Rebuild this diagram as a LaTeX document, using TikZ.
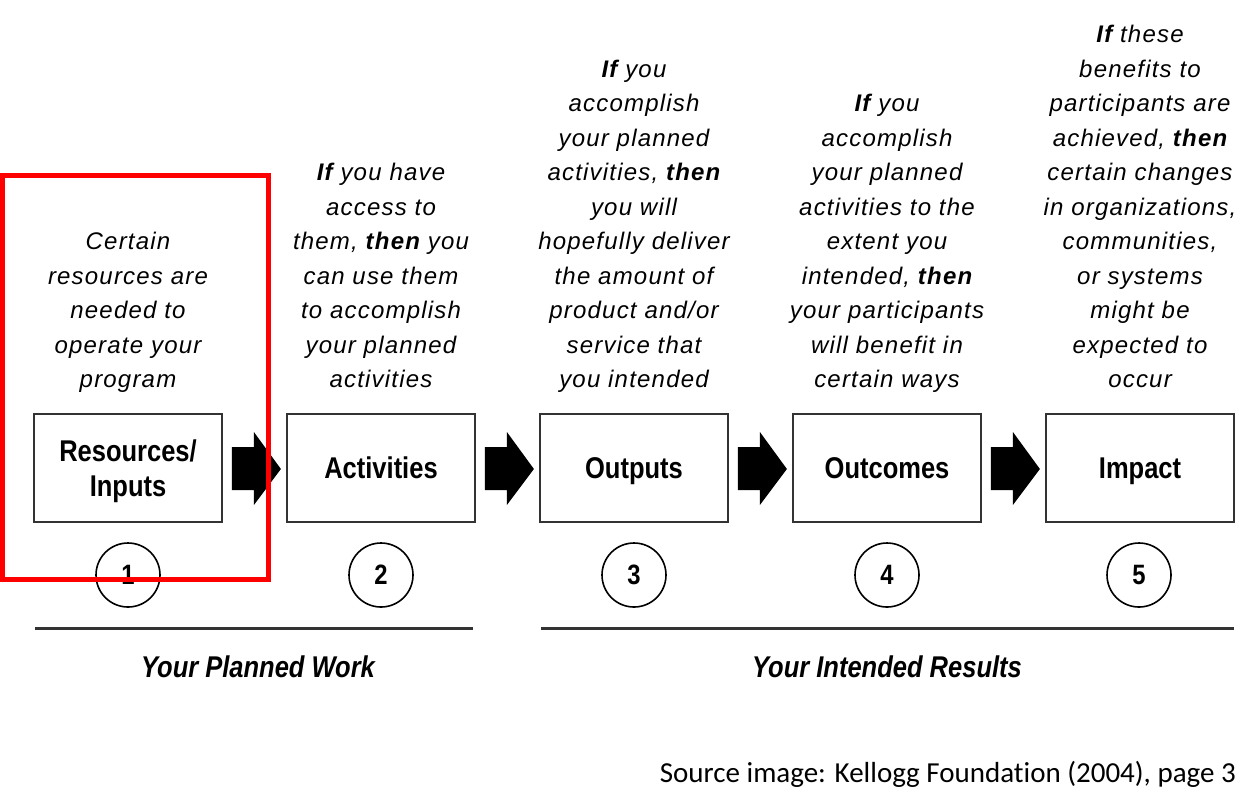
\documentclass[tikz,border=0pt]{standalone}
\usepackage{fontspec}
\setmainfont{Liberation Sans}
\newfontfamily\bodyfont{Liberation Sans}[LetterSpace=5]
\newfontfamily\labfont{Liberation Sans}[FakeStretch=0.85]
\newfontfamily\srcfont{Carlito}[Ligatures=NoCommon]
\usetikzlibrary{calc}
\newcommand\lstrut{\rule[-10pt]{0pt}{10pt}}
\definecolor{edge}{HTML}{333333}
\tikzset{
  stagebox/.style={draw=edge, line width=1.8pt, minimum width=188pt, minimum height=108pt,
    inner sep=0pt, align=center, text depth=0pt, font=\labfont\bfseries\fontsize{30}{35}\selectfont},
  numcircle/.style={circle, draw=black, line width=1.6pt, minimum size=64pt, inner sep=0pt,
    font=\labfont\bfseries\fontsize{28}{30}\selectfont},
  blurb/.style={anchor=south, inner sep=0pt, align=center,
    font=\bodyfont\itshape\fontsize{24}{34.5}\selectfont},
  flowarrow/.style={fill=black, draw=none},
  rule/.style={draw=edge, line width=3pt},
  grouplabel/.style={anchor=base, inner sep=0pt, font=\labfont\bfseries\itshape\fontsize{30}{34}\selectfont},
  highlight/.style={draw=red, line width=5pt},
  sourcenote/.style={anchor=base east, inner sep=0pt, font=\srcfont\fontsize{29}{34}\selectfont}
}
\begin{document}
\begin{tikzpicture}[x=1pt,y=-1pt]
\useasboundingbox (0,0) rectangle (1255,807);

% boxes
\node[stagebox] (b1) at (128,468) {Resources/\\Inputs};
\node[stagebox] (b2) at (381,468) {Activities};
\node[stagebox] (b3) at (634,468) {Outputs};
\node[stagebox] (b4) at (887,468) {Outcomes};
\node[stagebox] (b5) at (1140,468) {Impact};

% block arrows between boxes
\foreach \a in {b1,b2,b3,b4}{
  \fill[flowarrow] ($(\a.east)+(9,-21)$) -- ($(\a.east)+(31,-21)$) -- ($(\a.east)+(31,-36)$)
    -- ($(\a.east)+(58,1)$) -- ($(\a.east)+(31,37)$) -- ($(\a.east)+(31,22)$)
    -- ($(\a.east)+(9,22)$) -- cycle;
}

% numbered circles
\node[numcircle] (n1) at (128,575) {1};
\node[numcircle] (n2) at (381,575) {2};
\node[numcircle] (n3) at (634,575) {3};
\node[numcircle] (n4) at (887,575) {4};
\node[numcircle] (n5) at (1139,575) {5};

% descriptive texts
\node[blurb] (t1) at (128,398) {Certain\\resources are\\needed to\\operate your\\program\lstrut};
\node[blurb] (t2) at (381,398) {\textbf{If} you have\\access to\\them, \textbf{then} you\\can use them\\to accomplish\\your planned\\activities\lstrut};
\node[blurb] (t3) at (634,398) {\textbf{If} you\\accomplish\\your planned\\activities, \textbf{then}\\you will\\hopefully deliver\\the amount of\\product and/or\\service that\\you intended\lstrut};
\node[blurb] (t4) at (887,398) {\textbf{If} you\\accomplish\\your planned\\activities to the\\extent you\\intended, \textbf{then}\\your participants\\will benefit in\\certain ways\lstrut};
\node[blurb] (t5) at (1140,398) {\textbf{If} these\\benefits to\\participants are\\achieved, \textbf{then}\\certain changes\\in organizations,\\communities,\\or systems\\might be\\expected to\\occur\lstrut};

% group rules and labels
\coordinate (r1a) at (35,628);
\coordinate (r1b) at (473,628);
\coordinate (r2a) at (541,628);
\coordinate (r2b) at (1234,628);
\draw[rule] (r1a) -- (r1b);
\draw[rule] (r2a) -- (r2b);
\node[grouplabel] (g1) at (258,677) {Your Planned Work};
\node[grouplabel] (g2) at (887,677) {Your Intended Results};

% red highlight
\draw[highlight] (2.5,175) rectangle (268,579);

% source
\node[sourcenote] (src) at (1236,782) {Source image: Kellogg Foundation (2004), page 3};
\end{tikzpicture}
\end{document}
